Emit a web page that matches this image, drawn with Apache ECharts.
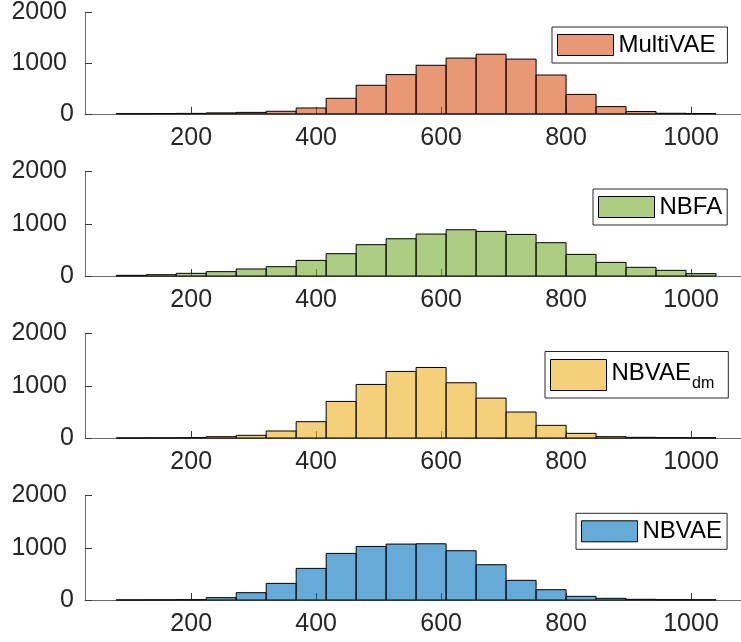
<!DOCTYPE html>
<html>
<head>
<meta charset="utf-8">
<script src="https://cdn.jsdelivr.net/npm/echarts@6/dist/echarts.min.js"></script>
<style>html,body{margin:0;padding:0;background:#fff}#c{width:741px;height:642px}</style>
</head>
<body>
<div id="c"></div>
<script>
// Histogram bin edges (shared by all panels)
var binEdges = [80,128,176,224,272,320,368,416,464,512,560,608,656,704,752,800,848,896,944,992,1040];
var seriesNames = ['MultiVAE','NBFA','NBVAE_dm','NBVAE'];
var multiVAE = [2,4,8,18,28,50,115,306,563,774,958,1100,1176,1080,766,383,142,46,10,5];
var nbfa     = [13,25,51,83,134,178,299,427,599,713,803,885,854,796,637,414,261,166,108,45];
var nbvaeDm  = [2,3,6,25,51,134,312,700,1025,1274,1350,1057,764,497,242,89,25,13,6,5];
var nbvae    = [2,3,6,45,140,318,605,892,1025,1070,1076,943,675,376,197,70,32,13,6,5];
var xTicks = [200,400,600,800,1000];
var yTicks = [0,1000,2000];

var values = [multiVAE, nbfa, nbvaeDm, nbvae];
var fills = ['rgba(217,83,25,0.6)','rgba(119,172,48,0.6)','rgba(237,177,32,0.6)','rgba(0,114,189,0.6)'];
var legendFills = ['#E89875','#ADCD83','#F4D079','#66AAD7'];
var tops = [9.3, 171.5, 333.5, 495.5];
var legendPos = [
  {left:552, top:27, padding:[6,12,6,5], h:21},
  {left:593, top:189, padding:[6,5,6,5], h:21},
  {left:545, top:351.5, padding:[6.5,14,6,5], h:31},
  {left:576, top:513.3, padding:[6,5,6,5], h:21}
];
var font = '"Liberation Sans", Arial, Helvetica, sans-serif';

var grids = [], xAxes = [], yAxes = [], series = [], legends = [];
for (var i = 0; i < 4; i++) {
  grids.push({left:85, right:0, top:tops[i], height:104.5});
  xAxes.push({
    type:'value', gridIndex:i, min:30, max:1080,
    axisLine:{show:true, lineStyle:{color:'#6a6a6a', width:1}},
    axisTick:{show:true, inside:true, length:7, customValues:xTicks, lineStyle:{color:'#3a3a3a'}},
    axisLabel:{show:true, customValues:xTicks, fontSize:25, color:'#262626', fontFamily:font, margin:12,
      formatter:function(v){ return String(v); }},
    splitLine:{show:false}
  });
  yAxes.push({
    type:'value', gridIndex:i, min:0, max:2000, interval:1000,
    axisLine:{show:true, lineStyle:{color:'#6a6a6a', width:1}},
    axisTick:{show:true, inside:true, length:7, lineStyle:{color:'#3a3a3a'}},
    axisLabel:{show:true, fontSize:25, color:'#262626', fontFamily:font, margin:11,
      formatter:function(v){ return v === 0 ? '0' : '{p|' + v + '}'; },
      rich:{p:{padding:[0,7,0,0], fontSize:25, color:'#262626', fontFamily:font}}
    },
    splitLine:{show:false}
  });
  var data = [];
  for (var k = 0; k < values[i].length; k++) data.push([binEdges[k], binEdges[k+1], values[i][k]]);
  (function(fill){
    series.push({
      type:'custom', name:seriesNames[i], xAxisIndex:i, yAxisIndex:i,
      encode:{x:[0,1], y:2},
      itemStyle:{color:fill},
      renderItem:function(params, api){
        var p0 = api.coord([api.value(0), api.value(2)]);
        var p1 = api.coord([api.value(1), 0]);
        return {type:'rect', shape:{x:p0[0], y:p0[1], width:p1[0]-p0[0], height:p1[1]-p0[1]},
          style:{fill:fill, stroke:'#000', lineWidth:1}};
      },
      data:data
    });
  })(fills[i]);
  var lp = legendPos[i];
  legends.push({
    left:lp.left, top:lp.top, padding:lp.padding, orient:'vertical',
    selectedMode:false, backgroundColor:'#fff', borderColor:'#262626', borderWidth:1,
    icon:'rect', itemWidth:56, itemHeight:lp.h,
    textStyle:{fontSize:24, color:'#000', fontFamily:font,
      rich:{m:{fontSize:24, color:'#000', fontFamily:font, lineHeight:28, verticalAlign:'top'},
            s:{fontSize:16, color:'#000', fontFamily:font, lineHeight:16, padding:[18,0,0,1]}}},
    formatter:function(name){ return name === 'NBVAE_dm' ? '{m|NBVAE}{s|dm}' : name; },
    data:[{name:seriesNames[i], itemStyle:{color:legendFills[i], borderColor:'#000', borderWidth:1}}]
  });
}

var chart = echarts.init(document.getElementById('c'), null, {renderer:'canvas'});
chart.setOption({
  animation:false,
  backgroundColor:'#fff',
  grid:grids, xAxis:xAxes, yAxis:yAxes, legend:legends, series:series
});
</script>
</body>
</html>
